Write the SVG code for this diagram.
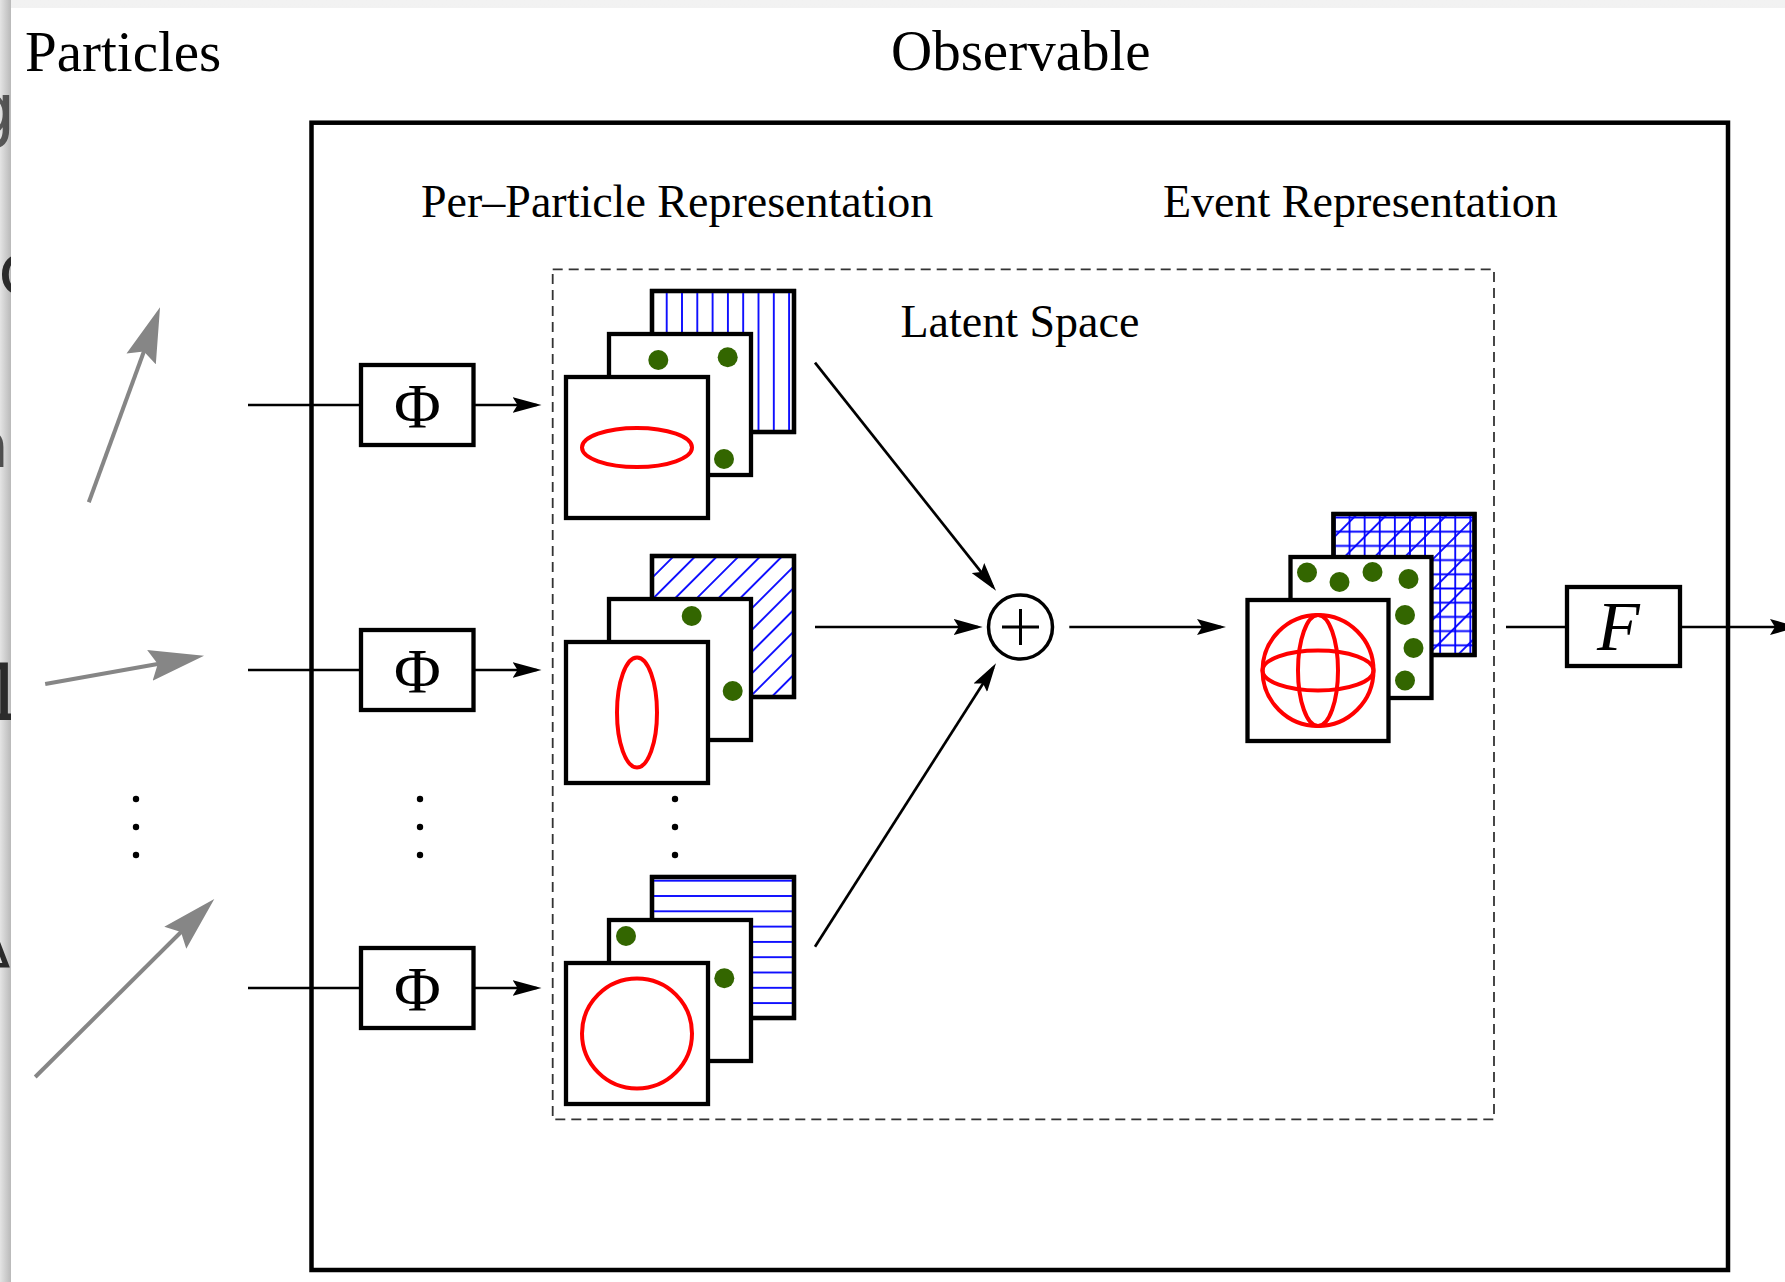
<svg xmlns="http://www.w3.org/2000/svg" width="1785" height="1282" viewBox="0 0 1785 1282">
<style>
  .serif{font-family:"Liberation Serif","Times New Roman",serif;fill:#000}
  .title{font-size:57px}
  .label{font-size:46px}
  .sym{font-size:64px}
  .box{fill:#fff;stroke:#000;stroke-width:4.3}
  .card{fill:#fff;stroke:#000;stroke-width:4.3}
  .edge{fill:none;stroke:#000;stroke-width:4.3}
  .wire{fill:none;stroke:#000;stroke-width:2.7}
  .arrow{fill:none;stroke:#000;stroke-width:2.7;marker-end:url(#head)}
  .ptcl{fill:none;stroke:#868686;stroke-width:4;marker-end:url(#ghead)}
  .shape{fill:none;stroke:#f00;stroke-width:4}
  .dot{fill:#336600}
  .ellip{fill:#000}
  .bg-text{font-family:"DejaVu Sans",sans-serif;fill:#2b2b2b}
</style>
<defs>
  <marker id="head" markerUnits="userSpaceOnUse" viewBox="0 0 29 16" markerWidth="29" markerHeight="16" refX="24" refY="8" orient="auto">
    <path d="M0,0 L29,8 L0,16 L5,8 Z" fill="#000"/>
  </marker>
  <marker id="ghead" markerUnits="userSpaceOnUse" viewBox="0 0 55 32" markerWidth="55" markerHeight="32" refX="45" refY="16" orient="auto">
    <path d="M0,0.4 L55,16 L0,31.6 L8,16 Z" fill="#868686"/>
  </marker>
  <pattern id="vlines" patternUnits="userSpaceOnUse" x="659.05" y="0" width="15.3" height="20">
    <line x1="7.65" y1="0" x2="7.65" y2="20" stroke="#00f" stroke-width="1.8"/>
  </pattern>
  <pattern id="hlines" patternUnits="userSpaceOnUse" x="0" y="873.05" width="20" height="15.3">
    <line x1="0" y1="7.65" x2="20" y2="7.65" stroke="#00f" stroke-width="1.8"/>
  </pattern>
  <pattern id="dlines" patternUnits="userSpaceOnUse" x="862.03" y="0" width="15.34" height="20" patternTransform="rotate(45)">
    <line x1="7.67" y1="0" x2="7.67" y2="20" stroke="#00f" stroke-width="1.8"/>
  </pattern>
  <pattern id="grid" patternUnits="userSpaceOnUse" x="1342" y="510.4" width="15.1" height="14.2">
    <path d="M7.55,0 V14.2 M0,7.1 H15.1" stroke="#00f" stroke-width="1.8" fill="none"/>
  </pattern>
  <pattern id="gdiag" patternUnits="userSpaceOnUse" x="1312.5" y="0" width="21.35" height="20" patternTransform="rotate(45)">
    <line x1="10.68" y1="0" x2="10.68" y2="20" stroke="#00f" stroke-width="1.8"/>
  </pattern>
  <linearGradient id="sideShade" x1="0" y1="0" x2="1" y2="0">
    <stop offset="0" stop-color="#e4e4e4"/>
    <stop offset="1" stop-color="#b9b9b9"/>
  </linearGradient>
  <linearGradient id="topShade" x1="0" y1="0" x2="0" y2="1">
    <stop offset="0" stop-color="#f2f2f2"/>
    <stop offset="1" stop-color="#d4d4d4"/>
  </linearGradient>
  <clipPath id="sideClip"><rect x="0" y="0" width="11" height="1282"/></clipPath>
</defs>

<!-- backdrop and page -->
<rect x="0" y="0" width="1785" height="1282" fill="url(#topShade)"/>
<rect x="0" y="0" width="11" height="1282" fill="url(#sideShade)"/>
<g clip-path="url(#sideClip)" class="bg-text">
  <text x="-30" y="134" font-size="72" opacity="0.75">g</text>
  <text x="-2" y="294" font-size="72">c</text>
  <text x="-30" y="467" font-size="64" opacity="0.8">a</text>
  <text x="-22" y="720" font-size="78">1</text>
  <text x="-28" y="967" font-size="56">Δ</text>
</g>
<rect x="11" y="8" width="1774" height="1274" fill="#fff"/>

<!-- headings -->
<text class="serif title" x="25" y="70.5">Particles</text>
<text class="serif title" x="891" y="70">Observable</text>

<!-- observable frame -->
<rect id="observable" x="311.5" y="122.7" width="1416.5" height="1147.3" fill="none" stroke="#000" stroke-width="4.5"/>
<text class="serif label" x="421" y="217">Per–Particle Representation</text>
<text class="serif label" x="1163" y="216.5">Event Representation</text>

<!-- latent space region -->
<g id="latent-space">
  <rect x="552.7" y="269.3" width="941.3" height="850" fill="none" stroke="#333" stroke-width="1.8" stroke-dasharray="10 6"/>
  <text class="serif label" x="900.5" y="337">Latent Space</text>
</g>

<!-- input particles -->
<g id="particles">
  <line class="ptcl" x1="88.8" y1="502.3" x2="156.6" y2="316.7"/>
  <line class="ptcl" x1="45.2" y1="684" x2="194.2" y2="657.5"/>
  <line class="ptcl" x1="35.2" y1="1077" x2="207.2" y2="906"/>
  <circle class="ellip" cx="136" cy="799" r="3.2"/>
  <circle class="ellip" cx="136" cy="827" r="3.2"/>
  <circle class="ellip" cx="136" cy="855" r="3.2"/>
</g>

<!-- per-particle maps -->
<g id="phi-1">
  <rect class="box" x="361" y="365" width="112.5" height="80"/>
  <text class="serif sym" x="417.3" y="427.5" text-anchor="middle">Φ</text>
</g>
<g id="phi-2">
  <rect class="box" x="361" y="630" width="112.5" height="80"/>
  <text class="serif sym" x="417.3" y="692.5" text-anchor="middle">Φ</text>
</g>
<g id="phi-3">
  <rect class="box" x="361" y="948" width="112.5" height="80"/>
  <text class="serif sym" x="417.3" y="1010.5" text-anchor="middle">Φ</text>
</g>
<g id="phi-ellipsis">
  <circle class="ellip" cx="420" cy="799" r="3.2"/>
  <circle class="ellip" cx="420" cy="827" r="3.2"/>
  <circle class="ellip" cx="420" cy="855" r="3.2"/>
</g>

<!-- per-particle representation stacks -->
<g id="stack-1">
  <rect class="card" x="652" y="291" width="142" height="141"/>
  <rect x="652" y="291" width="142" height="141" fill="url(#vlines)"/>
  <rect class="edge" x="652" y="291" width="142" height="141"/>
  <rect class="card" x="609" y="334" width="142" height="141"/>
  <circle class="dot" cx="658.3" cy="360" r="10"/>
  <circle class="dot" cx="727.7" cy="357.3" r="10"/>
  <circle class="dot" cx="724" cy="459" r="10"/>
  <rect class="card" x="566" y="377" width="142" height="141"/>
  <ellipse class="shape" cx="637" cy="447.5" rx="55" ry="19.5"/>
</g>
<g id="stack-2">
  <rect class="card" x="652" y="556" width="142" height="141"/>
  <rect x="652" y="556" width="142" height="141" fill="url(#dlines)"/>
  <rect class="edge" x="652" y="556" width="142" height="141"/>
  <rect class="card" x="609" y="599" width="142" height="141"/>
  <circle class="dot" cx="691.7" cy="616" r="10"/>
  <circle class="dot" cx="732.7" cy="691" r="10"/>
  <rect class="card" x="566" y="642" width="142" height="141"/>
  <ellipse class="shape" cx="637" cy="712.5" rx="20" ry="55"/>
</g>
<g id="stack-ellipsis">
  <circle class="ellip" cx="675" cy="799" r="3.2"/>
  <circle class="ellip" cx="675" cy="827" r="3.2"/>
  <circle class="ellip" cx="675" cy="855" r="3.2"/>
</g>
<g id="stack-3">
  <rect class="card" x="652" y="877" width="142" height="141"/>
  <rect x="652" y="877" width="142" height="141" fill="url(#hlines)"/>
  <rect class="edge" x="652" y="877" width="142" height="141"/>
  <rect class="card" x="609" y="920" width="142" height="141"/>
  <circle class="dot" cx="626" cy="936" r="10"/>
  <circle class="dot" cx="724.3" cy="978.3" r="10"/>
  <rect class="card" x="566" y="963" width="142" height="141"/>
  <circle class="shape" cx="637" cy="1033.5" r="55"/>
</g>

<!-- summation -->
<g id="sum">
  <circle cx="1020.5" cy="627" r="32" fill="#fff" stroke="#000" stroke-width="3.5"/>
  <path d="M1002,627 H1039 M1020.5,609 V645" stroke="#000" stroke-width="3" fill="none"/>
</g>

<!-- event representation stack -->
<g id="event-stack">
  <rect class="card" x="1333.5" y="514" width="141" height="141"/>
  <rect x="1333.5" y="514" width="141" height="141" fill="url(#grid)"/>
  <rect x="1333.5" y="514" width="141" height="141" fill="url(#gdiag)"/>
  <rect class="edge" x="1333.5" y="514" width="141" height="141"/>
  <rect class="card" x="1290.5" y="557" width="141" height="141"/>
  <circle class="dot" cx="1307" cy="572.5" r="10"/>
  <circle class="dot" cx="1339.5" cy="582" r="10"/>
  <circle class="dot" cx="1372.5" cy="572" r="10"/>
  <circle class="dot" cx="1408.5" cy="579" r="10"/>
  <circle class="dot" cx="1405" cy="615" r="10"/>
  <circle class="dot" cx="1413.5" cy="648" r="10"/>
  <circle class="dot" cx="1405" cy="680.5" r="10"/>
  <rect class="card" x="1247.5" y="600" width="141" height="141"/>
  <circle class="shape" cx="1318" cy="670.5" r="55.5"/>
  <ellipse class="shape" cx="1318" cy="670.5" rx="55.5" ry="20"/>
  <ellipse class="shape" cx="1318" cy="670.5" rx="20" ry="55.5"/>
</g>

<!-- observable function -->
<g id="f-node">
  <rect class="box" x="1567" y="587" width="113" height="79"/>
  <text class="serif" x="1597" y="650" font-size="70" font-style="italic">F</text>
</g>

<!-- connectors -->
<g id="connectors">
  <line class="wire" x1="248" y1="405" x2="361" y2="405"/>
  <line class="wire" x1="248" y1="670" x2="361" y2="670"/>
  <line class="wire" x1="248" y1="988" x2="361" y2="988"/>
  <line class="arrow" x1="473.5" y1="405" x2="536.5" y2="405"/>
  <line class="arrow" x1="473.5" y1="670" x2="536.5" y2="670"/>
  <line class="arrow" x1="473.5" y1="988" x2="536.5" y2="988"/>
  <line class="arrow" x1="815" y1="362.7" x2="992.9" y2="586.8"/>
  <line class="arrow" x1="815" y1="627" x2="977.7" y2="627"/>
  <line class="arrow" x1="815" y1="946.7" x2="993.3" y2="667.5"/>
  <line class="arrow" x1="1069.3" y1="627" x2="1221" y2="627"/>
  <line class="wire" x1="1506" y1="627" x2="1567" y2="627"/>
  <line class="arrow" x1="1680" y1="627" x2="1794" y2="627"/>
</g>
</svg>
